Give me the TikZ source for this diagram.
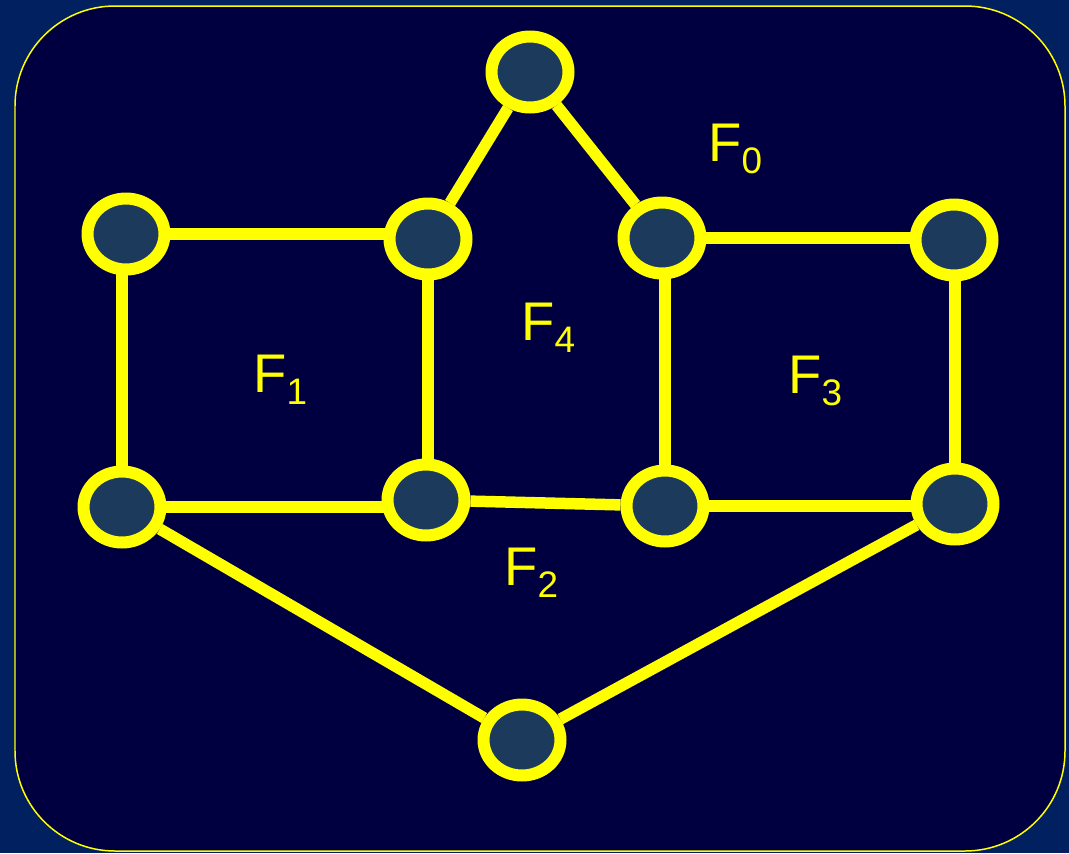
\documentclass[tikz,border=0pt]{standalone}
\usepackage{fontspec}
\setmainfont{Liberation Sans}
\usetikzlibrary{positioning,shapes.geometric,backgrounds}

\definecolor{slideblue}{HTML}{002060}
\definecolor{panelblue}{HTML}{000040}
\definecolor{vertexfill}{HTML}{1B3A5C}
\definecolor{lineyellow}{HTML}{FFFF00}

\pgfdeclarelayer{panel}
\pgfdeclarelayer{edges}
\pgfsetlayers{panel,edges,main}

\tikzset{
    vertex/.style={ellipse, draw=lineyellow, fill=vertexfill,
        line width=0.24cm, minimum width=1.54cm, minimum height=1.42cm,
        inner sep=0pt},
    edge/.style={draw=lineyellow, line width=0.23cm},
    facelabel/.style={text=lineyellow, anchor=base west, inner sep=0pt,
        font=\fontsize{31}{31}\selectfont}
}
\newcommand{\facename}[1]{F\raisebox{-0.24cm}{\fontsize{21}{21}\selectfont #1}}

\begin{document}
\begin{tikzpicture}[x=0.02cm, y=-0.02cm]
        % slide and panel
        \begin{pgfonlayer}{panel}
            \fill[slideblue] (0,0) rectangle (1069,853);
            \draw[lineyellow, fill=panelblue, line width=0.85pt,
                rounded corners=2cm] (15,6) rectangle (1065,851);
        \end{pgfonlayer}

        % vertices
        \node[vertex] (apex) at (530,72) {};
        \node[vertex] (tl)   at (126,234) {};
        \node[vertex] (tcl)  at (428,239) {};
        \node[vertex] (tcr)  at (662,238) {};
        \node[vertex] (tr)   at (954,240) {};
        \node[vertex] (bl)   at (122,507) {};
        \node[vertex] (bcl)  at (426,500) {};
        \node[vertex] (bcr)  at (665,506) {};
        \node[vertex] (br)   at (955,504) {};
        \node[vertex] (base) at (522,740) {};

        % edges
        \begin{pgfonlayer}{edges}
            \draw[edge] (apex) -- (tcl);
            \draw[edge] (apex) -- (tcr);
            \draw[edge] (tl) -- (tl -| tcl);
            \draw[edge] (tcr) -- (tcr -| tr);
            \draw[edge] (bl) -- (bl |- tl);
            \draw[edge] (tcl) -- (tcl |- bcl);
            \draw[edge] (bcr) -- (bcr |- tcr);
            \draw[edge] (br) -- (br |- tr);
            \draw[edge] (bl) -- (bl -| bcl);
            \draw[edge] (bcl) -- (bcr);
            \draw[edge] (bcr) -- (bcr -| br);
            \draw[edge] (bl) -- (base);
            \draw[edge] (br) -- (base);
        \end{pgfonlayer}

        % faces
        \node[facelabel] (f0) at (708,161) {\facename{0}};
        \node[facelabel] (f4) at (521,340) {\facename{4}};
        \node[facelabel] (f1) at (253,392) {\facename{1}};
        \node[facelabel] (f3) at (788,393) {\facename{3}};
        \node[facelabel] (f2) at (504,585) {\facename{2}};
    \end{tikzpicture}
\end{document}
